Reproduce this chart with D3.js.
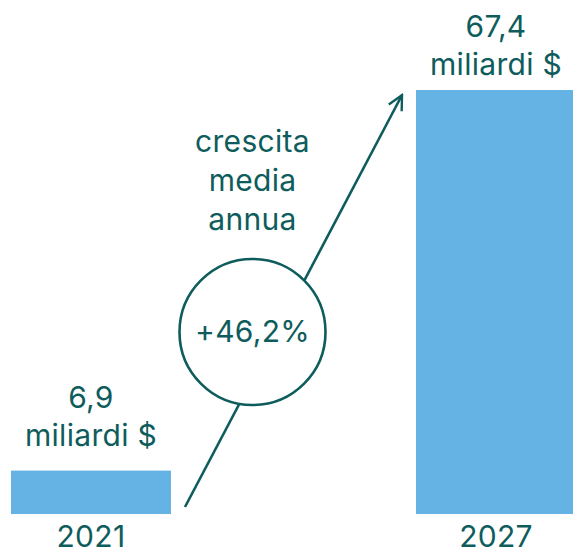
<!DOCTYPE html>
<meta charset="utf-8">
<title>Crescita mercato</title>
<style>
  body { margin: 0; background: #fff; }
  text { font-family: Inter, "Open Sans", sans-serif; fill: #0e5c5c; font-size: 30px; letter-spacing: 0.3px; }
</style>
<body>
<script src="https://cdn.jsdelivr.net/npm/d3@7"></script>
<script>

var width = 573,
    height = 552;

var years = ["2021", "2027"];
var values = [6.9, 67.4];
var valueLabels = ["6,9", "67,4"];
var unitLabel = "miliardi $";
var growthLines = ["crescita", "media", "annua"];
var growthLabel = "+46,2%";

var ink = "#0e5c5c",
    barColor = "#65b3e4";

var svg = d3.select("body").append("svg")
    .attr("width", width)
    .attr("height", height);

var x = d3.scaleBand()
    .domain(years)
    .range([11, 576])
    .paddingInner(0.605)
    .paddingOuter(0);

var y = d3.scaleLinear()
    .domain([0, d3.max(values)])
    .range([514, 90]);

// arrow first, circle sits on top of it
svg.append("defs").append("marker")
    .attr("id", "head")
    .attr("viewBox", "0 0 10 10")
    .attr("refX", 9).attr("refY", 5)
    .attr("markerWidth", 7).attr("markerHeight", 7)
    .attr("markerUnits", "strokeWidth")
    .attr("orient", "auto")
  .append("path")
    .attr("d", "M1,1 L9,5 L1,9")
    .attr("fill", "none")
    .attr("stroke", ink)
    .attr("stroke-width", 1.3);

var x0 = x(years[0]) + x.bandwidth() + 14,
    x1 = x(years[1]) - 14;

svg.append("line")
    .attr("x1", x0).attr("y1", y(0) - 7)
    .attr("x2", x1).attr("y2", y(values[1]) + 5)
    .attr("stroke", ink)
    .attr("stroke-width", 2.6)
    .attr("marker-end", "url(#head)");

var cx = (x(years[0]) + x(years[1]) + x.bandwidth()) / 2 - 41,
    cy = 332;

svg.append("circle")
    .attr("cx", cx).attr("cy", cy).attr("r", 73)
    .attr("fill", "#fff")
    .attr("stroke", ink)
    .attr("stroke-width", 2.6);

svg.append("text")
    .attr("x", cx).attr("y", cy + 10)
    .attr("text-anchor", "middle")
    .text(growthLabel);

svg.selectAll(".growth")
    .data(growthLines)
  .enter().append("text")
    .attr("class", "growth")
    .attr("x", cx)
    .attr("y", function(d, i) { return 152 + i * 39; })
    .attr("text-anchor", "middle")
    .text(function(d) { return d; });

// bars
svg.selectAll(".bar")
    .data(values)
  .enter().append("rect")
    .attr("class", "bar")
    .attr("x", function(d, i) { return x(years[i]); })
    .attr("y", function(d) { return y(d); })
    .attr("width", x.bandwidth())
    .attr("height", function(d) { return y(0) - y(d); })
    .attr("fill", barColor);

var labels = svg.selectAll(".vlabel")
    .data(values)
  .enter().append("g")
    .attr("class", "vlabel")
    .attr("transform", function(d, i) {
      var off = i === 0 ? 25 : 15;
      return "translate(" + (x(years[i]) + x.bandwidth() / 2) + "," + (y(d) - off) + ")";
    });

labels.append("text")
    .attr("y", -38)
    .attr("text-anchor", "middle")
    .text(function(d, i) { return valueLabels[i]; });

labels.append("text")
    .attr("text-anchor", "middle")
    .text(unitLabel);

svg.selectAll(".year")
    .data(years)
  .enter().append("text")
    .attr("class", "year")
    .attr("x", function(d) { return x(d) + x.bandwidth() / 2; })
    .attr("y", 547)
    .attr("text-anchor", "middle")
    .text(function(d) { return d; });

</script>
